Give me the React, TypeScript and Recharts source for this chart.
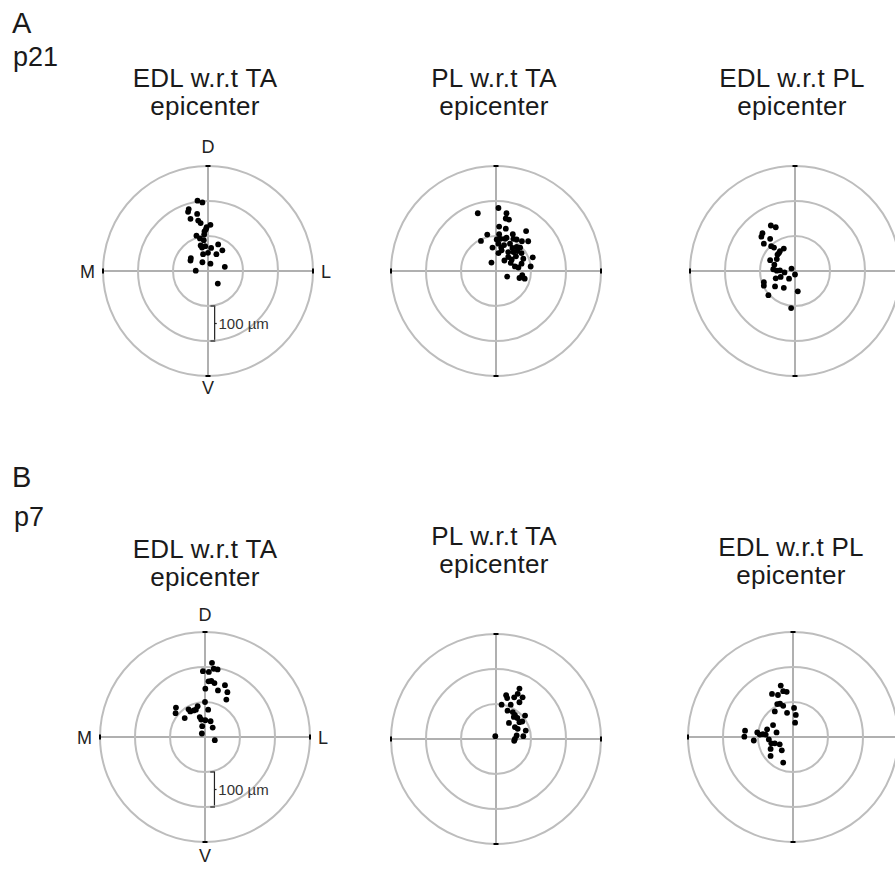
import React from 'react';
import { ScatterChart, Scatter, XAxis, YAxis, ReferenceLine, ReferenceDot } from 'recharts';

// ---- data (µm relative to epicenter; x: medial(-) / lateral(+), y: ventral(-) / dorsal(+)) ----
const RINGS_UM = [100, 200, 300];
const AXIS_LIMIT = 300;

const p21EdlWrtTa = [
  { x: -30, y: 201 }, { x: -16, y: 196 }, { x: -55, y: 177 }, { x: -57, y: 169 }, { x: -31, y: 163 },
  { x: -50, y: 149 }, { x: -28, y: 144 }, { x: -21, y: 137 }, { x: 7, y: 132 }, { x: -4, y: 125 },
  { x: -6, y: 119 }, { x: -10, y: 113 }, { x: -11, y: 104 }, { x: -33, y: 101 }, { x: -23, y: 93 },
  { x: -12, y: 88 }, { x: -21, y: 73 }, { x: -8, y: 71 }, { x: 9, y: 66 }, { x: -17, y: 67 },
  { x: 29, y: 76 }, { x: 41, y: 59 }, { x: 0, y: 52 }, { x: 24, y: 48 }, { x: -14, y: 48 },
  { x: -49, y: 37 }, { x: -50, y: 30 }, { x: -16, y: 25 }, { x: 7, y: 21 }, { x: 48, y: 12 },
  { x: -35, y: 1 }, { x: 28, y: -36 },
];

const p21PlWrtTa = [
  { x: -52, y: 165 }, { x: 7, y: 180 }, { x: 30, y: 165 }, { x: 28, y: 150 }, { x: 37, y: 147 },
  { x: 9, y: 127 }, { x: 28, y: 121 }, { x: -25, y: 104 }, { x: 86, y: 114 }, { x: -43, y: 86 },
  { x: 9, y: 105 }, { x: 2, y: 90 }, { x: 13, y: 92 }, { x: 26, y: 92 }, { x: 30, y: 95 },
  { x: 48, y: 105 }, { x: 50, y: 92 }, { x: 59, y: 90 }, { x: 74, y: 85 }, { x: 92, y: 85 },
  { x: -10, y: 67 }, { x: 7, y: 78 }, { x: 15, y: 67 }, { x: 23, y: 74 }, { x: 40, y: 78 },
  { x: 47, y: 66 }, { x: 59, y: 69 }, { x: 69, y: 67 }, { x: 7, y: 51 }, { x: 16, y: 59 },
  { x: 35, y: 54 }, { x: 50, y: 54 }, { x: 61, y: 57 }, { x: 73, y: 51 }, { x: 24, y: 30 },
  { x: 35, y: 40 }, { x: 45, y: 33 }, { x: 57, y: 42 }, { x: 78, y: 35 }, { x: 105, y: 39 },
  { x: -13, y: 24 }, { x: 42, y: 23 }, { x: 54, y: 13 }, { x: 64, y: 10 }, { x: 73, y: 21 },
  { x: 99, y: 13 }, { x: 32, y: -16 }, { x: 67, y: -20 }, { x: 75, y: -12 }, { x: 82, y: -22 },
];

const p21EdlWrtPl = [
  { x: -69, y: 130 }, { x: -55, y: 125 }, { x: -93, y: 108 }, { x: -96, y: 98 }, { x: -71, y: 92 },
  { x: -89, y: 78 }, { x: -68, y: 71 }, { x: -60, y: 67 }, { x: -32, y: 64 }, { x: -43, y: 57 },
  { x: -46, y: 51 }, { x: -50, y: 47 }, { x: -52, y: 34 }, { x: -71, y: 31 }, { x: -59, y: 18 },
  { x: -62, y: 5 }, { x: -52, y: 1 }, { x: -43, y: 2 }, { x: -30, y: -4 }, { x: -10, y: 7 },
  { x: 0, y: -10 }, { x: -55, y: -21 }, { x: -41, y: -17 }, { x: -17, y: -22 }, { x: -89, y: -32 },
  { x: -89, y: -42 }, { x: -57, y: -44 }, { x: -32, y: -48 }, { x: 8, y: -58 }, { x: -76, y: -69 },
  { x: -11, y: -106 },
];

const p7EdlWrtTa = [
  { x: 20, y: 212 }, { x: 36, y: 193 }, { x: 25, y: 195 }, { x: -6, y: 188 }, { x: 11, y: 186 },
  { x: 10, y: 159 }, { x: 18, y: 160 }, { x: 27, y: 154 }, { x: 57, y: 148 }, { x: 1, y: 138 },
  { x: 37, y: 133 }, { x: 64, y: 128 }, { x: 61, y: 107 }, { x: 0, y: 100 }, { x: -83, y: 84 },
  { x: -84, y: 68 }, { x: -47, y: 79 }, { x: -42, y: 73 }, { x: -32, y: 76 }, { x: -21, y: 88 },
  { x: -26, y: 78 }, { x: 9, y: 78 }, { x: -58, y: 54 }, { x: -15, y: 57 }, { x: -11, y: 50 },
  { x: 1, y: 48 }, { x: 16, y: 45 }, { x: -8, y: 31 }, { x: 22, y: 27 }, { x: -9, y: 10 },
  { x: 28, y: -9 },
];

const p7PlWrtTa = [
  { x: 67, y: 144 }, { x: 62, y: 129 }, { x: 76, y: 119 }, { x: 29, y: 125 }, { x: 32, y: 117 },
  { x: 52, y: 119 }, { x: 42, y: 98 }, { x: 16, y: 98 }, { x: 67, y: 105 }, { x: 33, y: 81 },
  { x: 48, y: 77 }, { x: 54, y: 69 }, { x: 51, y: 63 }, { x: 83, y: 67 }, { x: 61, y: 60 },
  { x: 75, y: 50 }, { x: 67, y: 48 }, { x: 37, y: 46 }, { x: 54, y: 34 }, { x: 62, y: 29 },
  { x: 85, y: 24 }, { x: 78, y: 8 }, { x: 59, y: 10 }, { x: 54, y: 0 }, { x: 52, y: -5 },
  { x: -2, y: 8 },
];

const p7EdlWrtPl = [
  { x: -35, y: 147 }, { x: -28, y: 131 }, { x: -18, y: 129 }, { x: -60, y: 123 }, { x: -43, y: 120 },
  { x: -45, y: 94 }, { x: -37, y: 95 }, { x: -28, y: 89 }, { x: -52, y: 73 }, { x: 3, y: 83 },
  { x: -17, y: 69 }, { x: 8, y: 63 }, { x: 6, y: 41 }, { x: -57, y: 34 }, { x: -74, y: 22 },
  { x: -47, y: 13 }, { x: -137, y: 18 }, { x: -139, y: 1 }, { x: -102, y: 13 }, { x: -95, y: 7 },
  { x: -86, y: 8 }, { x: -78, y: 7 }, { x: -112, y: -10 }, { x: -69, y: -7 }, { x: -62, y: -18 },
  { x: -52, y: -18 }, { x: -38, y: -21 }, { x: -64, y: -34 }, { x: -32, y: -38 }, { x: -64, y: -54 },
  { x: -28, y: -73 },
];

const TITLES = ['EDL w.r.t TA', 'PL w.r.t TA', 'EDL w.r.t PL'];
const SUBTITLE = 'epicenter';
const AXIS_NAMES = { top: 'D', bottom: 'V', left: 'M', right: 'L' };
const SCALE_LABEL = '100 µm';
const ROW_LETTERS = ['A', 'B'];
const ROW_AGES = ['p21', 'p7'];

// ---- layout ----
const FONT = '"Liberation Sans", Arial, Helvetica, sans-serif';
const SIZE = 300;
const MARGIN = 45;
const PLOT = SIZE - 2 * MARGIN;
const PX_PER_UM = PLOT / (2 * AXIS_LIMIT);
const RING_COLOR = '#bdbdbd';
const AXIS_COLOR = '#b0b0b0';

const PointDot = (props: any) => {
  const { cx, cy } = props;
  if (cx == null || cy == null) return null;
  return <circle cx={cx} cy={cy} r={2.9} fill="#000" />;
};

const makeEndMark = (side: 'top' | 'bottom' | 'left' | 'right', label: string | null, off: number) => (props: any) => {
  const { cx, cy } = props;
  const vertical = side === 'left' || side === 'right';
  let text = null;
  const common = { fontSize: 18, fill: '#222', fontFamily: FONT };
  if (label) {
    if (side === 'top') text = <text x={cx} y={cy - off} textAnchor="middle" {...common}>{label}</text>;
    if (side === 'bottom') text = <text x={cx} y={cy + off} textAnchor="middle" {...common}>{label}</text>;
    if (side === 'left') text = <text x={cx - off} y={cy + 6.5} textAnchor="end" {...common}>{label}</text>;
    if (side === 'right') text = <text x={cx + off} y={cy + 6.5} textAnchor="start" {...common}>{label}</text>;
  }
  return (
    <g>
      {vertical ? (
        <line x1={cx} y1={cy - 2.5} x2={cx} y2={cy + 2.5} stroke="#000" strokeWidth={2} />
      ) : (
        <line x1={cx - 2.5} y1={cy} x2={cx + 2.5} y2={cy} stroke="#000" strokeWidth={2} />
      )}
      {text}
    </g>
  );
};

type ScaleBar = { x: number; endX: number; tickX: number; textX: number };

// horizontal end of the scale bracket, drawn leftwards from the bracket's vertical line
const makeBracketEnd = (lenUm: number) => (props: any) => {
  const { cx, cy } = props;
  return <line x1={cx - lenUm * PX_PER_UM} y1={cy} x2={cx + 0.6} y2={cy} stroke="#222" strokeWidth={1.2} />;
};

const ScaleText = (props: any) => {
  const { cx, cy } = props;
  return (
    <text x={cx} y={cy + 5} textAnchor="start" fontSize={15} fill="#333" fontFamily={FONT}>
      {SCALE_LABEL}
    </text>
  );
};

function Panel({ cx, cy, data, labeled, bar, labelOff }: { cx: number; cy: number; data: { x: number; y: number }[]; labeled: boolean; bar?: ScaleBar; labelOff: { top: number; bottom: number; side: number } }) {
  const mid = -(RINGS_UM[0] + RINGS_UM[1]) / 2;
  return (
    <div style={{ position: 'absolute', left: cx - SIZE / 2, top: cy - SIZE / 2, width: SIZE, height: SIZE }}>
      <ScatterChart width={SIZE} height={SIZE} margin={{ top: MARGIN, right: MARGIN, bottom: MARGIN, left: MARGIN }}>
        <XAxis type="number" dataKey="x" domain={[-AXIS_LIMIT, AXIS_LIMIT]} hide allowDataOverflow />
        <YAxis type="number" dataKey="y" domain={[-AXIS_LIMIT, AXIS_LIMIT]} hide allowDataOverflow />
        {RINGS_UM.map((r) => (
          <ReferenceDot key={r} x={0} y={0} r={r * PX_PER_UM} fill="none" stroke={RING_COLOR} strokeWidth={2} ifOverflow="visible" />
        ))}
        <ReferenceLine x={0} stroke={AXIS_COLOR} strokeWidth={2} ifOverflow="visible" />
        <ReferenceLine y={0} stroke={AXIS_COLOR} strokeWidth={2} ifOverflow="visible" />
        <ReferenceDot x={0} y={AXIS_LIMIT} ifOverflow="visible" shape={makeEndMark('top', labeled ? AXIS_NAMES.top : null, labelOff.top)} />
        <ReferenceDot x={0} y={-AXIS_LIMIT} ifOverflow="visible" shape={makeEndMark('bottom', labeled ? AXIS_NAMES.bottom : null, labelOff.bottom)} />
        <ReferenceDot x={-AXIS_LIMIT} y={0} ifOverflow="visible" shape={makeEndMark('left', labeled ? AXIS_NAMES.left : null, labelOff.side)} />
        <ReferenceDot x={AXIS_LIMIT} y={0} ifOverflow="visible" shape={makeEndMark('right', labeled ? AXIS_NAMES.right : null, labelOff.side)} />
        {bar && (
          <ReferenceLine segment={[{ x: bar.x, y: -RINGS_UM[0] }, { x: bar.x, y: -RINGS_UM[1] }]} stroke="#222" strokeWidth={1.2} ifOverflow="visible" />
        )}
        {bar && (
          <ReferenceLine segment={[{ x: bar.x, y: mid }, { x: bar.tickX, y: mid }]} stroke="#222" strokeWidth={1.2} ifOverflow="visible" />
        )}
        {bar && <ReferenceDot x={bar.x} y={-RINGS_UM[0]} ifOverflow="visible" shape={makeBracketEnd(bar.x - bar.endX)} />}
        {bar && <ReferenceDot x={bar.x} y={-RINGS_UM[1]} ifOverflow="visible" shape={makeBracketEnd(bar.x - bar.endX)} />}
        {bar && <ReferenceDot x={bar.textX} y={mid} ifOverflow="visible" shape={ScaleText} />}
        <Scatter data={data} isAnimationActive={false} shape={PointDot} />
      </ScatterChart>
    </div>
  );
}

function Title({ cx, top, text }: { cx: number; top: number; text: string }) {
  return (
    <div style={{ position: 'absolute', left: cx - 120, top, width: 240, textAlign: 'center', fontSize: 26, letterSpacing: '0.3px', lineHeight: '28px', color: '#1a1a1a', fontFamily: FONT }}>
      <div>{text}</div>
      <div>{SUBTITLE}</div>
    </div>
  );
}

export default function App() {
  return (
    <div style={{ position: 'absolute', left: 0, top: 0, width: 895, height: 871, overflow: 'hidden', background: '#fff', fontFamily: FONT }}>
      <div style={{ position: 'absolute', left: 12, top: 6, fontSize: 29, lineHeight: '34px', color: '#1a1a1a' }}>{ROW_LETTERS[0]}</div>
      <div style={{ position: 'absolute', left: 13, top: 42, fontSize: 27, lineHeight: '30px', color: '#1a1a1a' }}>{ROW_AGES[0]}</div>
      <div style={{ position: 'absolute', left: 12, top: 460, fontSize: 29, lineHeight: '34px', color: '#1a1a1a' }}>{ROW_LETTERS[1]}</div>
      <div style={{ position: 'absolute', left: 14, top: 502, fontSize: 27, lineHeight: '30px', color: '#1a1a1a' }}>{ROW_AGES[1]}</div>

      <Title cx={205} top={64} text={TITLES[0]} />
      <Title cx={494} top={64} text={TITLES[1]} />
      <Title cx={792} top={64} text={TITLES[2]} />
      <Title cx={205} top={535} text={TITLES[0]} />
      <Title cx={494} top={522} text={TITLES[1]} />
      <Title cx={791} top={533} text={TITLES[2]} />

      <Panel cx={208} cy={271} data={p21EdlWrtTa} labeled bar={{ x: 19, endX: 7, tickX: 25, textX: 30 }} labelOff={{ top: 13, bottom: 18, side: 8 }} />
      <Panel cx={496} cy={271} data={p21PlWrtTa} labeled={false} labelOff={{ top: 13, bottom: 18, side: 8 }} />
      <Panel cx={795} cy={271} data={p21EdlWrtPl} labeled={false} labelOff={{ top: 13, bottom: 18, side: 8 }} />
      <Panel cx={205} cy={737} data={p7EdlWrtTa} labeled bar={{ x: 27, endX: 15, tickX: 33, textX: 38 }} labelOff={{ top: 11, bottom: 20, side: 8 }} />
      <Panel cx={496} cy={739} data={p7PlWrtTa} labeled={false} labelOff={{ top: 13, bottom: 18, side: 8 }} />
      <Panel cx={793} cy={737} data={p7EdlWrtPl} labeled={false} labelOff={{ top: 13, bottom: 18, side: 8 }} />
    </div>
  );
}
